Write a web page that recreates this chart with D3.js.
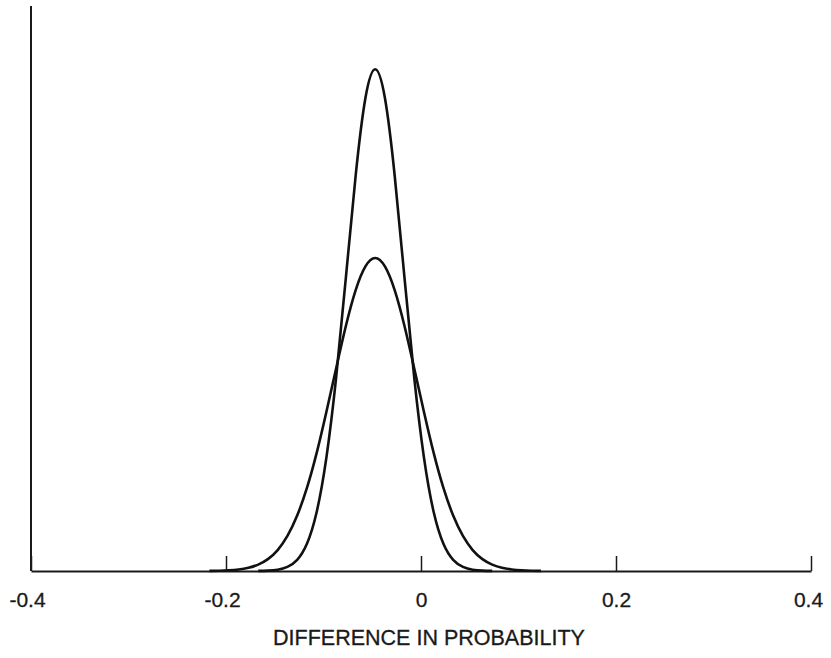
<!DOCTYPE html>
<html>
<head>
<meta charset="utf-8">
<script src="https://cdn.jsdelivr.net/npm/d3@7"></script>
<style>
  body { margin: 0; background: #fff; }
  svg { display: block; }
  text { font-family: "Liberation Sans", Arial, sans-serif; fill: #1a1a1a; }
</style>
</head>
<body>
<svg id="chart" width="831" height="658"></svg>
<script>
"use strict";

// x positions (difference in probability), both curves peak near -0.047
const narrowX = [-0.167, -0.157, -0.147, -0.137, -0.127, -0.117, -0.107, -0.097, -0.087, -0.077, -0.067, -0.057,
  -0.047, -0.037, -0.027, -0.017, -0.007, 0.003, 0.013, 0.023, 0.033, 0.043, 0.053, 0.063, 0.073];
// narrow (tall) curve heights, arbitrary units (axis top = 1)
const narrowY = [0.0002, 0.0007, 0.0023, 0.0072, 0.0198, 0.0482, 0.1044, 0.201, 0.343, 0.520, 0.700, 0.837,
  0.888, 0.837, 0.700, 0.520, 0.343, 0.201, 0.1044, 0.0482, 0.0198, 0.0072, 0.0023, 0.0007, 0.0002];

const wideX = [-0.217, -0.207, -0.197, -0.187, -0.177, -0.167, -0.157, -0.147, -0.137, -0.127, -0.117, -0.107,
  -0.097, -0.087, -0.077, -0.067, -0.057, -0.047, -0.037, -0.027, -0.017, -0.007, 0.003, 0.013, 0.023, 0.033,
  0.043, 0.053, 0.063, 0.073, 0.083, 0.093, 0.103, 0.113, 0.123];
// wide (low) curve heights
const wideY = [0.0002, 0.0005, 0.0013, 0.0028, 0.0057, 0.0113, 0.0210, 0.0371, 0.062, 0.0981, 0.147, 0.209,
  0.282, 0.359, 0.434, 0.497, 0.539, 0.554, 0.539, 0.497, 0.434, 0.359, 0.282, 0.209, 0.147, 0.0981,
  0.062, 0.0371, 0.0210, 0.0113, 0.0057, 0.0028, 0.0013, 0.0005, 0.0002];

const tickValues = [-0.4, -0.2, 0, 0.2, 0.4];
const tickLabels = ["-0.4", "-0.2", "0", "0.2", "0.4"];
const xTitle = "DIFFERENCE IN PROBABILITY";

function draw() {
  const svg = d3.select("#chart");
  const left = 31, right = 811, bottom = 571, top = 6;

  const x = d3.scaleLinear().domain([-0.4, 0.4]).range([left, right]);
  const y = d3.scaleLinear().domain([0, 1]).range([bottom, top]);

  // y axis: bare line
  svg.append("line")
    .attr("x1", left).attr("x2", left)
    .attr("y1", top).attr("y2", bottom)
    .attr("stroke", "#1a1a1a").attr("stroke-width", 2);

  // x axis with upward ticks
  const xAxis = d3.axisBottom(x)
    .tickValues(tickValues)
    .tickSize(-15)
    .tickSizeOuter(0)
    .tickPadding(21)
    .tickFormat((d, i) => tickLabels[i]);

  const gx = svg.append("g")
    .attr("transform", "translate(0," + bottom + ")")
    .call(xAxis);

  gx.select(".domain").attr("stroke", "#1a1a1a").attr("stroke-width", 2);
  gx.selectAll(".tick line").attr("stroke", "#1a1a1a").attr("stroke-width", 1.5);
  gx.selectAll(".tick text")
    .attr("font-size", 21)
    .attr("fill", "#1a1a1a")
    .attr("stroke", "#1a1a1a")
    .attr("stroke-width", 0.3)
    .attr("dx", (d, i) => (tickLabels[i][0] === "-" ? -4 : (i === tickLabels.length - 1 ? -3 : 0)));

  svg.append("text")
    .attr("x", 429)
    .attr("y", 645)
    .attr("text-anchor", "middle")
    .attr("font-size", 21.5)
    .attr("stroke", "#1a1a1a")
    .attr("stroke-width", 0.3)
    .text(xTitle);

  const line = d3.line()
    .x(d => x(d[0]))
    .y(d => y(d[1]))
    .curve(d3.curveNatural);

  const curves = [
    d3.zip(wideX, wideY),
    d3.zip(narrowX, narrowY)
  ];

  svg.append("g")
    .selectAll("path")
    .data(curves)
    .enter()
    .append("path")
    .attr("d", line)
    .attr("fill", "none")
    .attr("stroke", "#111")
    .attr("stroke-width", 2.6)
    .attr("stroke-linejoin", "round");
}

draw();
</script>
</body>
</html>
